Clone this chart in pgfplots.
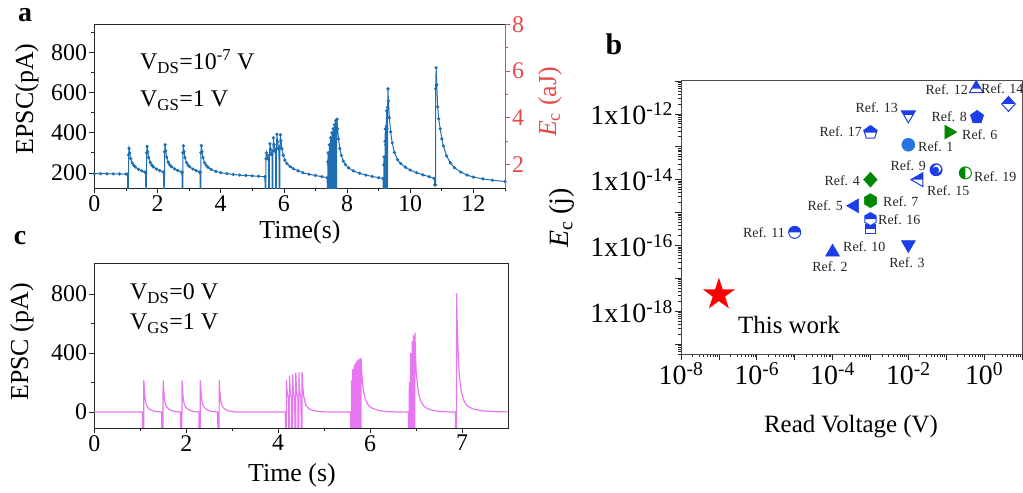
\documentclass[border=0pt]{standalone}
\usepackage{pgfplots}
\pgfplotsset{compat=1.18}
\usepackage{fontspec}
\setmainfont{Liberation Serif}
\definecolor{lineA}{RGB}{30,110,180}
\definecolor{lineC}{RGB}{232,118,242}
\definecolor{redax}{RGB}{232,72,72}
\definecolor{mblue}{RGB}{28,62,232}
\definecolor{lblue}{RGB}{40,115,225}
\definecolor{mgreen}{RGB}{0,135,0}
\newcommand{\ms}{\pgfplotmarksize}
\pgfdeclareplotmark{Tup}{\pgfpathmoveto{\pgfqpoint{0pt}{\ms}}\pgfpathlineto{\pgfqpoint{-0.866\ms}{-0.5\ms}}\pgfpathlineto{\pgfqpoint{0.866\ms}{-0.5\ms}}\pgfpathclose\pgfusepathqfillstroke}
\pgfdeclareplotmark{HTup}{\pgfpathmoveto{\pgfqpoint{0pt}{\ms}}\pgfpathlineto{\pgfqpoint{-0.577\ms}{0pt}}\pgfpathlineto{\pgfqpoint{0.577\ms}{0pt}}\pgfpathclose\pgfusepathqfill}
\pgfdeclareplotmark{Tdn}{\pgfpathmoveto{\pgfqpoint{0pt}{-\ms}}\pgfpathlineto{\pgfqpoint{-0.866\ms}{0.5\ms}}\pgfpathlineto{\pgfqpoint{0.866\ms}{0.5\ms}}\pgfpathclose\pgfusepathqfillstroke}
\pgfdeclareplotmark{HTdn}{\pgfpathmoveto{\pgfqpoint{-0.866\ms}{0.5\ms}}\pgfpathlineto{\pgfqpoint{0.866\ms}{0.5\ms}}\pgfpathlineto{\pgfqpoint{0.577\ms}{0pt}}\pgfpathlineto{\pgfqpoint{-0.577\ms}{0pt}}\pgfpathclose\pgfusepathqfill}
\pgfdeclareplotmark{Tlf}{\pgfpathmoveto{\pgfqpoint{-\ms}{0pt}}\pgfpathlineto{\pgfqpoint{0.5\ms}{0.866\ms}}\pgfpathlineto{\pgfqpoint{0.5\ms}{-0.866\ms}}\pgfpathclose\pgfusepathqfillstroke}
\pgfdeclareplotmark{HTlf}{\pgfpathmoveto{\pgfqpoint{-\ms}{0pt}}\pgfpathlineto{\pgfqpoint{0.5\ms}{0.866\ms}}\pgfpathlineto{\pgfqpoint{0.5\ms}{0pt}}\pgfpathclose\pgfusepathqfill}
\pgfdeclareplotmark{Trt}{\pgfpathmoveto{\pgfqpoint{\ms}{0pt}}\pgfpathlineto{\pgfqpoint{-0.5\ms}{0.866\ms}}\pgfpathlineto{\pgfqpoint{-0.5\ms}{-0.866\ms}}\pgfpathclose\pgfusepathqfillstroke}
\pgfdeclareplotmark{Dia}{\pgfpathmoveto{\pgfqpoint{0pt}{\ms}}\pgfpathlineto{\pgfqpoint{0.9\ms}{0pt}}\pgfpathlineto{\pgfqpoint{0pt}{-\ms}}\pgfpathlineto{\pgfqpoint{-0.9\ms}{0pt}}\pgfpathclose\pgfusepathqfillstroke}
\pgfdeclareplotmark{HDia}{\pgfpathmoveto{\pgfqpoint{0pt}{\ms}}\pgfpathlineto{\pgfqpoint{0.9\ms}{0pt}}\pgfpathlineto{\pgfqpoint{-0.9\ms}{0pt}}\pgfpathclose\pgfusepathqfill}
\pgfdeclareplotmark{Pent}{\pgfpathmoveto{\pgfqpoint{0pt}{\ms}}\pgfpathlineto{\pgfqpoint{-0.951\ms}{0.309\ms}}\pgfpathlineto{\pgfqpoint{-0.588\ms}{-0.809\ms}}\pgfpathlineto{\pgfqpoint{0.588\ms}{-0.809\ms}}\pgfpathlineto{\pgfqpoint{0.951\ms}{0.309\ms}}\pgfpathclose\pgfusepathqfillstroke}
\pgfdeclareplotmark{HPent}{\pgfpathmoveto{\pgfqpoint{0pt}{\ms}}\pgfpathlineto{\pgfqpoint{-0.951\ms}{0.309\ms}}\pgfpathlineto{\pgfqpoint{-0.851\ms}{0pt}}\pgfpathlineto{\pgfqpoint{0.851\ms}{0pt}}\pgfpathlineto{\pgfqpoint{0.951\ms}{0.309\ms}}\pgfpathclose\pgfusepathqfill}
\pgfdeclareplotmark{Hex}{\pgfpathmoveto{\pgfqpoint{0pt}{\ms}}\pgfpathlineto{\pgfqpoint{-0.866\ms}{0.5\ms}}\pgfpathlineto{\pgfqpoint{-0.866\ms}{-0.5\ms}}\pgfpathlineto{\pgfqpoint{0pt}{-\ms}}\pgfpathlineto{\pgfqpoint{0.866\ms}{-0.5\ms}}\pgfpathlineto{\pgfqpoint{0.866\ms}{0.5\ms}}\pgfpathclose\pgfusepathqfillstroke}
\pgfdeclareplotmark{HHex}{\pgfpathmoveto{\pgfqpoint{0pt}{\ms}}\pgfpathlineto{\pgfqpoint{-0.866\ms}{0.5\ms}}\pgfpathlineto{\pgfqpoint{-0.866\ms}{0pt}}\pgfpathlineto{\pgfqpoint{0.866\ms}{0pt}}\pgfpathlineto{\pgfqpoint{0.866\ms}{0.5\ms}}\pgfpathclose\pgfusepathqfill}
\pgfdeclareplotmark{Sq}{\pgfpathrectangle{\pgfqpoint{-0.8\ms}{-0.8\ms}}{\pgfqpoint{1.6\ms}{1.6\ms}}\pgfusepathqfillstroke}
\pgfdeclareplotmark{HSq}{\pgfpathrectangle{\pgfqpoint{-0.8\ms}{0pt}}{\pgfqpoint{1.6\ms}{0.8\ms}}\pgfusepathqfill}
\pgfdeclareplotmark{Circ}{\pgfpathcircle{\pgfpointorigin}{\ms}\pgfusepathqfillstroke}
\pgfdeclareplotmark{HCircT}{\pgfpathmoveto{\pgfqpoint{\ms}{0pt}}\pgfpatharc{0}{180}{\ms}\pgfpathclose\pgfusepathqfill}
\pgfdeclareplotmark{HCircL}{\pgfpathmoveto{\pgfqpoint{0pt}{\ms}}\pgfpatharc{90}{270}{\ms}\pgfpathclose\pgfusepathqfill}
\pgfdeclareplotmark{Ball}{\pgfpathcircle{\pgfpointorigin}{\ms}\pgfusepathqfill
 \pgfsetfillcolor{white}\pgfpathcircle{\pgfqpoint{0.15\ms}{0.15\ms}}{0.62\ms}\pgfusepathqfill
 \pgfsetfillcolor{mblue}\pgfpathcircle{\pgfqpoint{-0.05\ms}{-0.05\ms}}{0.5\ms}\pgfusepathqfill}
\pgfdeclareplotmark{Star}{\pgfpathmoveto{\pgfqpoint{0pt}{\ms}}\pgfpathlineto{\pgfqpoint{-0.2245\ms}{0.309\ms}}\pgfpathlineto{\pgfqpoint{-0.951\ms}{0.309\ms}}\pgfpathlineto{\pgfqpoint{-0.363\ms}{-0.118\ms}}\pgfpathlineto{\pgfqpoint{-0.588\ms}{-0.809\ms}}\pgfpathlineto{\pgfqpoint{0pt}{-0.382\ms}}\pgfpathlineto{\pgfqpoint{0.588\ms}{-0.809\ms}}\pgfpathlineto{\pgfqpoint{0.363\ms}{-0.118\ms}}\pgfpathlineto{\pgfqpoint{0.951\ms}{0.309\ms}}\pgfpathlineto{\pgfqpoint{0.2245\ms}{0.309\ms}}\pgfpathclose\pgfusepathqfill}
\pgfplotsset{
 common/.style={scale only axis, anchor=south west, tick align=outside,
  axis line style={black!85,line width=0.8pt},
  every tick/.append style={black!85,line width=0.7pt},
  major tick length=5bp, minor tick length=3bp,
  /pgf/number format/assume math mode=true,
  tick label style={font=\fontsize{24}{26}\selectfont, inner sep=2bp}},
}
\newcommand{\rl}[3]{\node[anchor=#1,inner sep=0pt,font=\fontsize{14}{15}\selectfont,black!85] at (#2) {#3};}
\begin{document}
\begin{tikzpicture}[x=1bp,y=1bp]
\useasboundingbox (0,0) rectangle (1023,493);
% ---------------- panel a
\begin{axis}[common, at={(94.3bp,304.7bp)}, width=410.7bp, height=164bp,
 xmin=0, xmax=13, ymin=123, ymax=942, tick pos=left,
 xtick={0,2,...,12}, minor xtick={1,3,...,13},
 ytick={200,400,600,800}, minor ytick={300,500,700,900}]
\addplot[lineA, line width=1pt, mark=*, mark size=1.1pt, mark options={solid,fill=lineA,draw=lineA}] coordinates {
(0,196)(0.2,196)(0.4,195.5)(0.6,195)(0.8,194.5)(1.0,194)(1.05,194)
(1.06,100)(1.08,100)(1.085,290)(1.1,322)(1.12,300)(1.15,272)(1.2,250)(1.25,238)(1.3,229)(1.4,218)(1.5,210)(1.6,204)(1.625,203)
(1.63,100)(1.65,100)(1.655,300)(1.67,332)(1.69,305)(1.72,276)(1.77,252)(1.82,239)(1.87,230)(1.97,219)(2.07,211)(2.19,204)(2.195,203)
(2.2,100)(2.22,100)(2.225,305)(2.24,340)(2.26,310)(2.29,279)(2.34,253)(2.39,240)(2.44,231)(2.54,220)(2.64,212)(2.77,204)(2.775,203)
(2.78,100)(2.8,100)(2.805,300)(2.82,335)(2.84,306)(2.87,276)(2.92,251)(2.97,238)(3.02,230)(3.12,219)(3.22,211)(3.34,204)(3.345,203)
(3.35,100)(3.37,100)(3.375,300)(3.39,336)(3.41,306)(3.44,276)(3.49,251)(3.54,238)(3.6,228)(3.7,217)(3.85,207)(4.0,201)(4.2,196)(4.4,192)(4.6,189)(4.8,187)(5.0,185)(5.2,183)(5.4,181)
(5.41,100)(5.43,100)(5.435,270)(5.45,300)(5.47,285)(5.5,272)(5.515,268)
(5.52,100)(5.54,100)(5.545,290)(5.56,345)(5.58,318)(5.61,298)(5.625,290)
(5.63,100)(5.65,100)(5.655,310)(5.67,375)(5.69,340)(5.72,312)(5.735,305)
(5.74,100)(5.76,100)(5.765,320)(5.78,393)(5.8,355)(5.83,325)(5.845,318)
(5.85,100)(5.87,100)(5.875,330)(5.89,390)(5.91,360)(5.94,320)(5.98,288)(6.03,264)(6.1,246)(6.2,231)(6.3,221)(6.45,210)(6.6,201)(6.8,193)(7.0,187)(7.2,181)(7.37,176)
(7.38,100)(7.392,100)(7.394,255)(7.402,300)(7.415,240)
(7.42,100)(7.432,100)(7.434,289)(7.442,340)(7.455,272)
(7.46,100)(7.472,100)(7.474,319)(7.482,375)(7.495,300)
(7.50,100)(7.512,100)(7.514,340)(7.522,400)(7.535,320)
(7.54,100)(7.552,100)(7.554,357)(7.562,420)(7.575,336)
(7.58,100)(7.592,100)(7.594,374)(7.602,440)(7.615,352)
(7.62,100)(7.632,100)(7.634,391)(7.642,460)(7.655,368)
(7.66,100)(7.672,100)(7.674,398)(7.682,468)(7.7,420)(7.73,370)(7.77,322)(7.82,287)(7.88,259)(7.95,241)(8.05,225)(8.2,210)(8.4,198)(8.6,189)(8.8,182)(9.0,176)(9.14,172)
(9.15,100)(9.162,100)(9.164,240)(9.172,280)(9.185,240)
(9.19,100)(9.202,100)(9.204,357)(9.212,420)(9.225,340)
(9.23,100)(9.242,100)(9.244,434)(9.252,510)(9.265,420)
(9.27,100)(9.282,100)(9.284,527)(9.295,620)(9.31,560)(9.34,475)(9.38,405)(9.43,350)(9.5,302)(9.6,266)(9.7,246)(9.85,228)(10.0,214)(10.2,201)(10.4,190)(10.6,181)(10.76,172)
(10.78,140)(10.8,140)(10.805,620)(10.82,725)(10.84,640)(10.87,530)(10.9,470)(10.95,420)(11.0,370)(11.05,335)(11.15,285)(11.27,250)(11.4,226)(11.6,204)(11.8,189)(12.0,179)(12.3,170)(12.6,163)(13.0,157)
};
\end{axis}
\begin{axis}[common, at={(94.3bp,304.7bp)}, width=410.7bp, height=164bp,
 xmin=0, xmax=13, ymin=0.97, ymax=8, axis x line=none, axis y line*=right,
 ytick={2,4,6,8}, minor ytick={3,5,7},
 y axis line style={draw=redax,line width=0.8pt},
 every tick/.append style={draw=redax},
 yticklabel style={text=redax}]
\addplot[draw=none] coordinates {(0,2)};
\end{axis}
\node[anchor=center,font=\fontsize{28}{30}\selectfont\bfseries] at (25,478) {a};
\node[rotate=90,font=\fontsize{26}{28}\selectfont] at (27,394) {EPSC(pA)};
\node[font=\fontsize{26}{28}\selectfont] at (300,261) {Time(s)};
\node[rotate=90,font=\fontsize{26}{28}\selectfont,text=redax] at (550,391) {\textit{E}\textsubscript{c} (aJ)};
\node[anchor=base west,inner sep=0pt,font=\fontsize{24}{26}\selectfont] at (140,423) {V\textsubscript{DS}=10\textsuperscript{-7} V};
\node[anchor=base west,inner sep=0pt,font=\fontsize{24}{26}\selectfont] at (140,386) {V\textsubscript{GS}=1 V};
% ---------------- panel c
\begin{axis}[common, at={(94.3bp,65bp)}, width=413.7bp, height=165bp,
 xmin=0, xmax=9, ymin=-108, ymax=1010, tick pos=left,
 xtick={0,2,4,6,8}, xticklabels={0,2,4,6,7}, minor xtick={1,3,5,7},
 ytick={0,400,800}, minor ytick={200,600}]
\addplot[lineC, line width=1.2pt] coordinates {
(0,0)(1.045,0)
(1.05,-150)(1.075,-150)(1.077,215)(1.09,150)(1.105,90)(1.125,55)(1.165,30)(1.225,15)(1.305,6)(1.42,1)(1.465,0)
(1.47,-150)(1.495,-150)(1.497,215)(1.51,150)(1.525,90)(1.545,55)(1.585,30)(1.645,15)(1.725,6)(1.84,1)(1.875,0)
(1.88,-150)(1.905,-150)(1.907,215)(1.92,150)(1.935,90)(1.955,55)(1.995,30)(2.055,15)(2.135,6)(2.24,1)(2.275,0)
(2.28,-150)(2.305,-150)(2.307,215)(2.32,150)(2.335,90)(2.355,55)(2.395,30)(2.455,15)(2.535,6)(2.65,1)(2.685,0)
(2.69,-150)(2.715,-150)(2.717,215)(2.73,150)(2.745,90)(2.765,55)(2.805,30)(2.865,15)(2.945,6)(3.06,1)(3.2,0)(4.155,0)
(4.16,-150)(4.178,-150)(4.18,217)(4.192,150)(4.208,110)(4.226,100)
(4.228,-150)(4.246,-150)(4.248,246)(4.26,155)(4.276,112)(4.294,100)
(4.296,-150)(4.314,-150)(4.316,256)(4.328,158)(4.344,113)(4.362,102)
(4.364,-150)(4.382,-150)(4.384,267)(4.396,160)(4.412,115)(4.43,104)
(4.432,-150)(4.45,-150)(4.452,269)(4.464,160)(4.48,115)(4.498,104)
(4.5,-150)(4.518,-150)(4.52,270)(4.535,170)(4.56,100)(4.6,48)(4.67,22)(4.77,9)(4.95,2)(5.2,0)(5.575,0)
(5.58,-150)(5.592,-150)(5.594,215)(5.602,130)(5.609,108)
(5.61,-150)(5.622,-150)(5.624,290)(5.632,174)(5.639,145)
(5.64,-150)(5.652,-150)(5.654,320)(5.662,192)(5.669,160)
(5.67,-150)(5.682,-150)(5.684,335)(5.692,201)(5.699,168)
(5.70,-150)(5.712,-150)(5.714,348)(5.722,209)(5.729,174)
(5.73,-150)(5.742,-150)(5.744,356)(5.752,214)(5.759,178)
(5.76,-150)(5.772,-150)(5.774,362)(5.782,217)(5.789,181)
(5.79,-150)(5.802,-150)(5.804,365)(5.82,250)(5.85,150)(5.9,82)(5.97,42)(6.05,25)(6.2,10)(6.4,3)(6.6,0)(6.835,0)
(6.84,-150)(6.852,-150)(6.854,205)(6.862,123)(6.869,103)
(6.87,-150)(6.882,-150)(6.884,400)(6.892,240)(6.899,200)
(6.90,-150)(6.912,-150)(6.914,480)(6.922,288)(6.929,240)
(6.93,-150)(6.942,-150)(6.944,520)(6.952,312)(6.959,260)
(6.96,-150)(6.972,-150)(6.974,540)(6.985,420)(7.0,285)(7.03,180)(7.06,122)(7.1,72)(7.17,40)(7.25,22)(7.35,12)(7.5,5)(7.7,1)(7.855,0)
(7.86,-150)(7.88,-150)(7.882,805)(7.895,600)(7.915,400)(7.945,230)(7.99,130)(8.05,70)(8.12,40)(8.25,20)(8.45,8)(8.7,3)(9,1)
};
\end{axis}
\node[anchor=center,font=\fontsize{28}{30}\selectfont\bfseries] at (20,255) {c};
\node[rotate=90,font=\fontsize{26}{28}\selectfont] at (22,151) {EPSC (pA)};
\node[font=\fontsize{26}{28}\selectfont] at (292,18) {Time (s)};
\node[anchor=base west,inner sep=0pt,font=\fontsize{24}{26}\selectfont] at (130,193) {V\textsubscript{DS}=0 V};
\node[anchor=base west,inner sep=0pt,font=\fontsize{24}{26}\selectfont] at (130,163) {V\textsubscript{GS}=1 V};
% ---------------- panel b
\begin{axis}[common, at={(681bp,139bp)}, width=341bp, height=274bp,
 xmode=log, ymode=log, xmin=1e-8, xmax=10, ymin=5e-20, ymax=1.07e-11, tick pos=left, clip=false,
 axis line style={black!70,line width=0.8pt},
 xtick={1e-8,1e-7,1e-6,1e-5,1e-4,1e-3,1e-2,1e-1,1,10},
 xticklabels={10\textsuperscript{-8},,10\textsuperscript{-6},,10\textsuperscript{-4},,10\textsuperscript{-2},,10\textsuperscript{0},},
 minor xtick={2e-8,3e-8,4e-8,5e-8,6e-8,7e-8,8e-8,9e-8,2e-7,3e-7,4e-7,5e-7,6e-7,7e-7,8e-7,9e-7,2e-6,3e-6,4e-6,5e-6,6e-6,7e-6,8e-6,9e-6,2e-5,3e-5,4e-5,5e-5,6e-5,7e-5,8e-5,9e-5,2e-4,3e-4,4e-4,5e-4,6e-4,7e-4,8e-4,9e-4,2e-3,3e-3,4e-3,5e-3,6e-3,7e-3,8e-3,9e-3,2e-2,3e-2,4e-2,5e-2,6e-2,7e-2,8e-2,9e-2,2e-1,3e-1,4e-1,5e-1,6e-1,7e-1,8e-1,9e-1,2,3,4,5,6,7,8,9},
 ytick={1e-19,1e-18,1e-17,1e-16,1e-15,1e-14,1e-13,1e-12,1e-11},
 yticklabels={,1x10\textsuperscript{-18},,1x10\textsuperscript{-16},,1x10\textsuperscript{-14},,1x10\textsuperscript{-12},},
 minor ytick={5e-20,6e-20,7e-20,8e-20,9e-20,2e-19,3e-19,4e-19,5e-19,6e-19,7e-19,8e-19,9e-19,2e-18,3e-18,4e-18,5e-18,6e-18,7e-18,8e-18,9e-18,2e-17,3e-17,4e-17,5e-17,6e-17,7e-17,8e-17,9e-17,2e-16,3e-16,4e-16,5e-16,6e-16,7e-16,8e-16,9e-16,2e-15,3e-15,4e-15,5e-15,6e-15,7e-15,8e-15,9e-15,2e-14,3e-14,4e-14,5e-14,6e-14,7e-14,8e-14,9e-14,2e-13,3e-13,4e-13,5e-13,6e-13,7e-13,8e-13,9e-13,2e-12,3e-12,4e-12,5e-12,6e-12,7e-12,8e-12,9e-12},
 major tick length=6bp, minor tick length=3bp,
 tick label style={font=\fontsize{28}{30}\selectfont, inner sep=2bp}]
\addplot[only marks, mark=Circ, mark size=6.5bp, mark options={fill=lblue,draw=lblue,line width=0.5pt}] coordinates {(1e-2,1.15e-13)};
\addplot[only marks, mark=Tup, mark size=8bp, mark options={fill=mblue,draw=mblue,line width=0.5pt}] coordinates {(1e-4,6.3e-17)};
\addplot[only marks, mark=Tdn, mark size=8bp, mark options={fill=mblue,draw=mblue,line width=0.5pt}] coordinates {(1e-2,1.05e-16)};
\addplot[only marks, mark=Tlf, mark size=8bp, mark options={fill=mblue,draw=mblue,line width=0.5pt}] coordinates {(3.8e-4,1.6e-15)};
\addplot[only marks, mark=Pent, mark size=7bp, mark options={fill=mblue,draw=mblue,line width=0.5pt}] coordinates {(0.65,7.9e-13)};
\addplot[only marks, mark=Ball, mark size=6.5bp, mark options={fill=mblue,draw=mblue}] coordinates {(0.054,2e-14)};
\addplot[only marks, mark=Dia, mark size=7.5bp, mark options={fill=mgreen,draw=mgreen,line width=0.5pt}] coordinates {(1e-3,1e-14)};
\addplot[only marks, mark=Hex, mark size=7bp, mark options={fill=mgreen,draw=mgreen,line width=0.5pt}] coordinates {(1e-3,2.3e-15)};
\addplot[only marks, mark=Trt, mark size=8bp, mark options={fill=mgreen,draw=mgreen,line width=0.5pt}] coordinates {(0.117,2.8e-13)};
\addplot[only marks, mark=Circ, mark size=6bp, mark options={fill=white,draw=mgreen,line width=1pt}] coordinates {(0.32,1.6e-14)};
\addplot[only marks, mark=HCircL, mark size=6bp, mark options={fill=mgreen,draw=none}] coordinates {(0.32,1.6e-14)};
\addplot[only marks, mark=Tup, mark size=8bp, mark options={fill=white,draw=mblue,line width=1pt}] coordinates {(0.62,5.8e-12)};
\addplot[only marks, mark=HTup, mark size=8bp, mark options={fill=mblue,draw=none}] coordinates {(0.62,5.8e-12)};
\addplot[only marks, mark=Dia, mark size=7.5bp, mark options={fill=white,draw=mblue,line width=1pt}] coordinates {(4.4,2e-12)};
\addplot[only marks, mark=HDia, mark size=7.5bp, mark options={fill=mblue,draw=none}] coordinates {(4.4,2e-12)};
\addplot[only marks, mark=Tdn, mark size=8bp, mark options={fill=white,draw=mblue,line width=1pt}] coordinates {(1e-2,9.3e-13)};
\addplot[only marks, mark=HTdn, mark size=8bp, mark options={fill=mblue,draw=none}] coordinates {(1e-2,9.3e-13)};
\addplot[only marks, mark=Pent, mark size=7bp, mark options={fill=white,draw=mblue,line width=1pt}] coordinates {(1e-3,2.7e-13)};
\addplot[only marks, mark=HPent, mark size=7bp, mark options={fill=mblue,draw=none}] coordinates {(1e-3,2.7e-13)};
\addplot[only marks, mark=Tlf, mark size=8bp, mark options={fill=white,draw=mblue,line width=1pt}] coordinates {(0.019,1e-14)};
\addplot[only marks, mark=HTlf, mark size=8bp, mark options={fill=mblue,draw=none}] coordinates {(0.019,1e-14)};
\addplot[only marks, mark=Sq, mark size=6bp, mark options={fill=white,draw=mblue,line width=1pt}] coordinates {(1e-3,3.2e-16)};
\addplot[only marks, mark=HSq, mark size=6bp, mark options={fill=mblue,draw=none}] coordinates {(1e-3,3.2e-16)};
\addplot[only marks, mark=Hex, mark size=6.5bp, mark options={fill=white,draw=mblue,line width=1pt}] coordinates {(1e-3,6.3e-16)};
\addplot[only marks, mark=HHex, mark size=6.5bp, mark options={fill=mblue,draw=none}] coordinates {(1e-3,6.3e-16)};
\addplot[only marks, mark=Circ, mark size=6bp, mark options={fill=white,draw=mblue,line width=1pt}] coordinates {(1e-5,2.5e-16)};
\addplot[only marks, mark=HCircT, mark size=6bp, mark options={fill=mblue,draw=none}] coordinates {(1e-5,2.5e-16)};
\addplot[only marks, mark=Star, mark size=17bp, mark options={fill=red,draw=none}] coordinates {(1e-7,3.2e-18)};
\end{axis}
\node[anchor=center,font=\fontsize{30}{32}\selectfont\bfseries] at (614,449) {b};
\node[rotate=90,font=\fontsize{28}{30}\selectfont] at (562,275) {\textit{E}\textsubscript{c} (j)};
\node[font=\fontsize{25}{27}\selectfont] at (851,66) {Read Voltage (V)};
\node[anchor=west,inner sep=0pt,font=\fontsize{25}{27}\selectfont] at (738,168) {This work};
\rl{east}{968,403}{Ref. 12}
\rl{west}{981,404}{Ref. 14}
\rl{east}{898,385}{Ref. 13}
\rl{east}{967,376}{Ref. 8}
\rl{west}{962,358}{Ref. 6}
\rl{east}{862,361}{Ref. 17}
\rl{west}{918,346}{Ref. 1}
\rl{east}{926,327}{Ref. 9}
\rl{west}{974,316}{Ref. 19}
\rl{east}{860,312}{Ref. 4}
\rl{west}{927,302}{Ref. 15}
\rl{west}{883,291}{Ref. 7}
\rl{east}{843,287}{Ref. 5}
\rl{west}{878,273}{Ref. 16}
\rl{east}{785,260}{Ref. 11}
\rl{west}{843,246}{Ref. 10}
\rl{center}{830,226}{Ref. 2}
\rl{center}{907,230}{Ref. 3}
\end{tikzpicture}
\end{document}
